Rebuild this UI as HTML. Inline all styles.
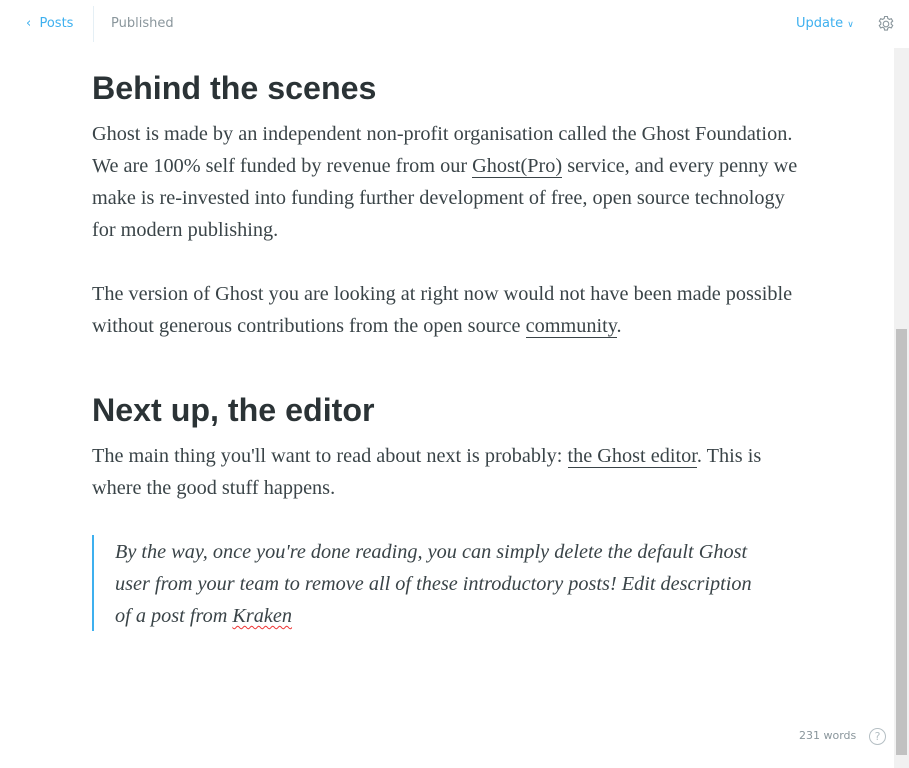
<!DOCTYPE html>
<html><head><style>
body{margin:0;width:909px;height:768px;background:#fff;position:relative;overflow:hidden;font-family:"Liberation Serif",serif;color:#3a4448}
.a{position:absolute;white-space:nowrap}
.h{font-family:"Liberation Sans",sans-serif;font-weight:bold;font-size:32.2px;color:#2b3336;left:92px;line-height:40px}
.p{font-size:20.25px;left:92px;line-height:32px}
.q{font-size:20.25px;left:115px;line-height:32px;font-style:italic}
u{text-decoration:none;border-bottom:1px solid #3a4448}
.nav{font-family:"DejaVu Sans","Liberation Sans",sans-serif;font-size:13px;line-height:16px}
</style></head><body>
<div class="a nav" style="left:26px;top:16px;color:#3eb0ef">‹&nbsp; Posts</div>
<div class="a" style="left:93px;top:6px;width:1px;height:36px;background:#e5eff5"></div>
<div class="a nav" style="left:111px;top:16px;color:#8a969c">Published</div>
<div class="a nav" style="left:796px;top:16px;color:#3eb0ef">Update <span style="font-size:9px">∨</span></div>
<svg class="a" style="left:877px;top:15px" width="18" height="18" viewBox="0 0 18 18"><circle cx="9" cy="9" r="2.8" fill="none" stroke="#8a969c" stroke-width="1.1"/><path d="M7.6 1.5h2.8l.4 2 1.6.9 1.9-.7 1.4 2.4-1.5 1.3v1.8l1.5 1.3-1.4 2.4-1.9-.7-1.6.9-.4 2H7.6l-.4-2-1.6-.9-1.9.7-1.4-2.4 1.5-1.3V7.4L2.3 6.1l1.4-2.4 1.9.7 1.6-.9z" fill="none" stroke="#8a969c" stroke-width="1.1"/></svg>
<div class="a" style="left:894px;top:48px;width:15px;height:720px;background:#f1f1f1"></div>
<div class="a" style="left:896px;top:329px;width:11px;height:426px;background:#c1c1c1"></div>

<div class="a h" style="top:68px">Behind the scenes</div>
<div class="a p" style="top:118px">Ghost is made by an independent non-profit organisation called the Ghost Foundation.<br>We are 100% self funded by revenue from our <u>Ghost(Pro)</u> service, and every penny we<br>make is re-invested into funding further development of free, open source technology<br>for modern publishing.</div>
<div class="a p" style="top:278px">The version of Ghost you are looking at right now would not have been made possible<br>without generous contributions from the open source <u>community</u>.</div>
<div class="a h" style="top:390px">Next up, the editor</div>
<div class="a p" style="top:440px">The main thing you'll want to read about next is probably: <u>the Ghost editor</u>. This is<br>where the good stuff happens.</div>
<div class="a" style="left:92px;top:535px;width:2px;height:96px;background:#3eb0ef"></div>
<div class="a q" style="top:536px">By the way, once you're done reading, you can simply delete the default Ghost<br>user from your team to remove all of these introductory posts! Edit description<br>of a post from <span style="text-decoration:underline wavy #e33;text-underline-offset:3px;text-decoration-thickness:1px">Kraken</span></div>

<div class="a nav" style="left:799px;top:728px;font-size:11px;color:#8a969c">231 words</div>
<div class="a" style="left:869px;top:728px;width:15px;height:15px;border:1px solid #b5bfc4;border-radius:50%;font:11px 'DejaVu Sans',sans-serif;color:#b5bfc4;text-align:center;line-height:15px">?</div>
</body></html>
